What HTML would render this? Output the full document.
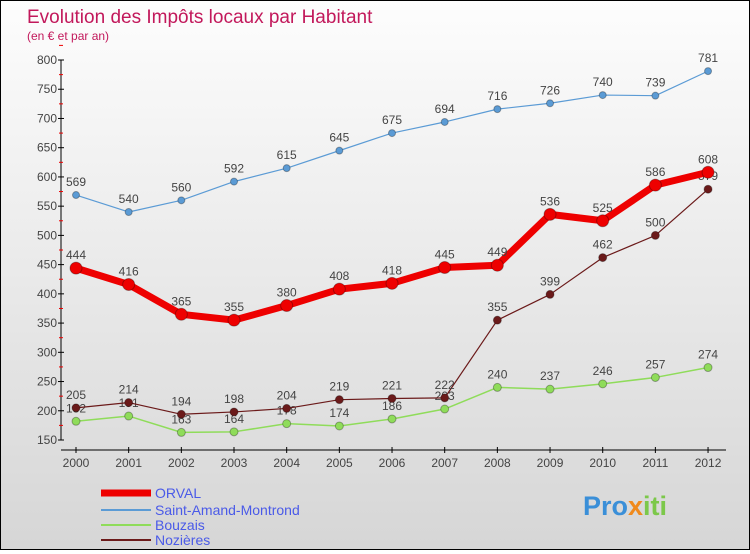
<!DOCTYPE html>
<html><head><meta charset="utf-8"><style>
html,body{margin:0;padding:0}
body{width:750px;height:550px;overflow:hidden;font-family:"Liberation Sans",sans-serif}
#c{position:absolute;left:0;top:0;width:748px;height:548px;border:1px solid #000;background:linear-gradient(#fdfdfd,#d6d6d6)}
</style></head><body>
<div id="c">
<svg id="s" width="748" height="548" xmlns="http://www.w3.org/2000/svg">
<text x="26" y="22" font-size="19" fill="#c2185b">Evolution des Impôts locaux par Habitant</text>
<text x="26" y="39" font-size="12" fill="#c2185b">(en € et par an)</text>
<g id="axes"></g><g id="series"></g><g id="legend"></g>
<text x="582" y="514" font-size="27" font-weight="bold" fill="#3a8fd8">Pro<tspan fill="#f08a1c">x</tspan><tspan fill="#7cc84a">iti</tspan></text>
</svg></div>
<script>
const years=[2000,2001,2002,2003,2004,2005,2006,2007,2008,2009,2010,2011,2012];
const yTicks=[150,200,250,300,350,400,450,500,550,600,650,700,750,800];
const orval=[444,416,365,355,380,408,418,445,449,536,525,586,608];
const saint=[569,540,560,592,615,645,675,694,716,726,740,739,781];
const bouzais=[182,191,163,164,178,174,186,203,240,237,246,257,274];
const nozieres=[205,214,194,198,204,219,221,222,355,399,462,500,579];
const NS="http://www.w3.org/2000/svg";
const xS=i=>75+i*52.67, yS=v=>439-(v-150)*0.5846;
function el(t,a,p){const e=document.createElementNS(NS,t);for(const k in a)e.setAttribute(k,a[k]);p.appendChild(e);return e;}
const ax=document.getElementById('axes');
const ya=el('line',{x1:60,y1:yS(800),x2:60,y2:yS(150),stroke:'#000'},ax);


yTicks.forEach(v=>{el('line',{x1:57,x2:63,y1:yS(v),y2:yS(v),stroke:'#000'},ax);
el('line',{x1:58,x2:62,y1:yS(v+25),y2:yS(v+25),stroke:'#e00'},ax);
const t=el('text',{x:56,y:yS(v)+4,'font-size':12,'text-anchor':'end',fill:'#444'},ax);t.textContent=v;

});
const xa=el('line',{x1:60,y1:449,x2:725,y2:449,stroke:'#000'},ax);


years.forEach((y,i)=>{el('line',{x1:xS(i),x2:xS(i),y1:446,y2:452,stroke:'#000'},ax);
const t=el('text',{x:xS(i),y:466,'font-size':12,'text-anchor':'middle',fill:'#444'},ax);t.textContent=y;

});
const sg=document.getElementById('series');
function series(d,col,w,r,name){const g=el('g',{},sg);


el('polyline',{points:d.map((v,i)=>xS(i)+','+yS(v)).join(' '),fill:'none',stroke:col,'stroke-width':w,'stroke-linejoin':'round'},g);
d.forEach((v,i)=>{const c=el('circle',{cx:xS(i),cy:yS(v),r:r,fill:col,stroke:'rgba(0,0,0,0.3)','stroke-width':1},g);


const t=el('text',{x:xS(i),y:yS(v)-9,'font-size':12,'text-anchor':'middle',fill:'#444'},g);t.textContent=v;

});}
series(saint,'#5b9bd5',1.2,3.5,'saint-amand');
series(bouzais,'#8fdc5a',1.5,4,'bouzais');
series(nozieres,'#6b1a1a',1.2,4,'nozieres');
series(orval,'#ee0000',7,6,'orval');
const lg=document.getElementById('legend');
[['ORVAL','#ee0000',7,492],['Saint-Amand-Montrond','#5b9bd5',2,509],['Bouzais','#8fdc5a',2,524],['Nozières','#6b1a1a',2,539]].forEach(([n,c,w,y])=>{
const g=el('g',{},lg);


el('line',{x1:100,x2:150,y1:y,y2:y,stroke:c,'stroke-width':w},g);
const t=el('text',{x:154,y:y+5,'font-size':14,fill:'#4a5ae8'},g);t.textContent=n;});
</script>
</body></html>
